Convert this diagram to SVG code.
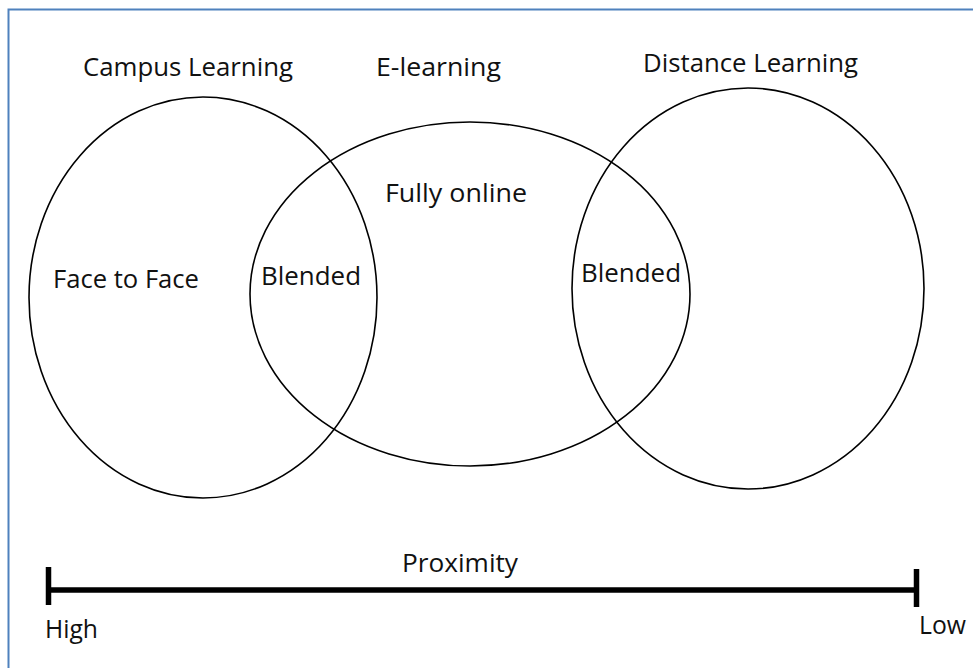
<svg xmlns="http://www.w3.org/2000/svg" width="973" height="668" viewBox="0 0 973 668">
<style>
.t{font-family:"Open Sans","Noto Sans","Liberation Sans",sans-serif;font-size:25px;fill:#111}
.c{fill:none;stroke:#000;stroke-width:1.6}
.bar{stroke:#000;stroke-width:5.5;fill:none}
</style>
<rect x="0" y="0" width="973" height="668" fill="#fff"/>
<rect x="8.5" y="9.5" width="1000" height="700" fill="none" stroke="#4f81bd" stroke-width="2"/>
<g id="campus">
<ellipse class="c" cx="203" cy="297.5" rx="174" ry="200.5"/>
<text class="t" x="83" y="76" textLength="210" lengthAdjust="spacingAndGlyphs">Campus Learning</text>
<text class="t" x="53" y="288" textLength="146" lengthAdjust="spacingAndGlyphs">Face to Face</text>
</g>
<g id="elearning">
<ellipse class="c" cx="470" cy="294" rx="220" ry="172"/>
<text class="t" x="376" y="76" textLength="125" lengthAdjust="spacingAndGlyphs">E-learning</text>
<text class="t" x="385" y="202" textLength="142" lengthAdjust="spacingAndGlyphs">Fully online</text>
</g>
<g id="distance">
<ellipse class="c" cx="748" cy="288.5" rx="176" ry="200.5"/>
<text class="t" x="643" y="72" textLength="215" lengthAdjust="spacingAndGlyphs">Distance Learning</text>
</g>
<g id="blended-left">
<text class="t" x="261" y="285" textLength="100" lengthAdjust="spacingAndGlyphs">Blended</text>
</g>
<g id="blended-right">
<text class="t" x="581" y="282" textLength="100" lengthAdjust="spacingAndGlyphs">Blended</text>
</g>
<g id="connectors">
<line class="bar" x1="48" y1="590" x2="917" y2="590"/>
<line class="bar" x1="48.5" y1="567" x2="48.5" y2="605"/>
<line class="bar" x1="916.5" y1="569" x2="916.5" y2="607"/>
</g>
<g id="axis-labels">
<text class="t" x="402" y="572" textLength="116" lengthAdjust="spacingAndGlyphs">Proximity</text>
<text class="t" x="45" y="638" textLength="53" lengthAdjust="spacingAndGlyphs">High</text>
<text class="t" x="919" y="634" textLength="47" lengthAdjust="spacingAndGlyphs">Low</text>
</g>
</svg>
